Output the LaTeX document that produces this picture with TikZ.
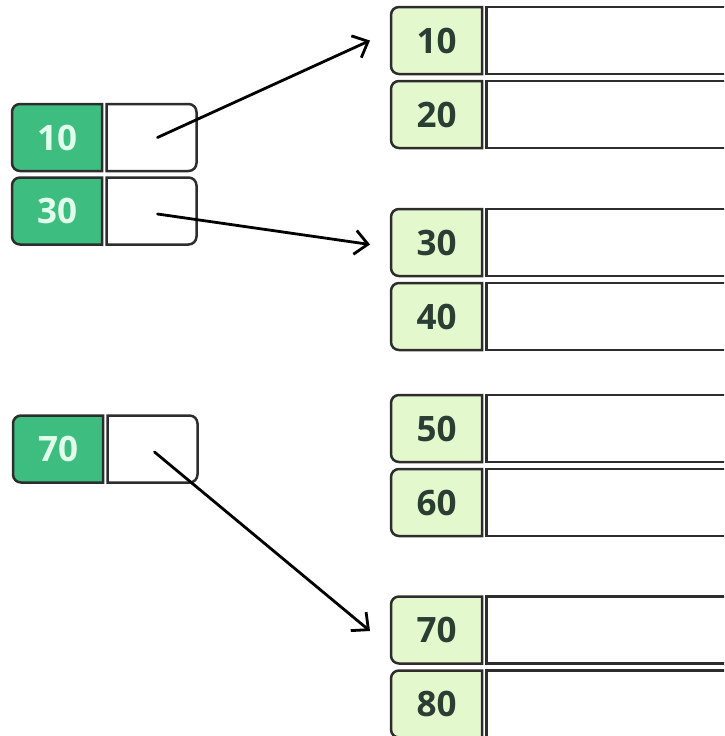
\documentclass[tikz,border=0pt]{standalone}
\usepackage{fontspec}
\setmainfont{Open Sans}
\usetikzlibrary{arrows.meta,backgrounds,positioning}
\definecolor{keygreen}{RGB}{61,190,128}
\definecolor{keylight}{RGB}{228,248,206}
\definecolor{keytext}{RGB}{43,62,52}
\definecolor{minttext}{RGB}{226,255,236}
\definecolor{edge}{RGB}{45,45,45}

\begin{document}
\begin{tikzpicture}[x=1pt,y=-1pt,
  cell/.style={minimum width=90pt,minimum height=67pt,inner sep=0pt,outer sep=0pt,
    font=\fontsize{35}{40}\selectfont\bfseries},
  leafkey/.style={cell,text=minttext},
  pagekey/.style={cell,minimum width=91pt,text=keytext},
  valcell/.style={cell,draw=edge,line width=2.5pt,fill=white,minimum width=270pt},
  celledge/.style={draw=edge,line width=2.5pt},
  ptrarrow/.style={line width=2.8pt,line cap=round,
    -{Straight Barb[length=13pt,width=24pt]}}]
\clip (0,0) rectangle (724,736);
% index entries
\node [leafkey] (l10) at (57,137.5) {10};
\node [leafkey] (l30) at (57,211) {30};
\node [leafkey] (l70) at (58,449) {70};
\foreach \n in {10,30,70}
  \node [cell, right=4.5pt of l\n] (p\n) {};
% pages
\foreach \k/\y in {10/40.5,20/114.5,30/242.5,40/316.5,50/428.5,60/502.5,70/630,80/704} {
  \node [pagekey] (r\k) at (436.5,\y) {\k};
  \node [valcell, right=4.5pt of r\k] (v\k) {};
}
\begin{scope}[on background layer]
\foreach \n in {l10,l30,l70}
  \draw [celledge, fill=keygreen] (\n.north east) [rounded corners=8pt]
  -- (\n.north west) -- (\n.south west) [sharp corners] -- (\n.south east) -- cycle;
\foreach \n in {10,20,30,40,50,60,70,80}
  \draw [celledge, fill=keylight] (r\n.north east) [rounded corners=8pt]
  -- (r\n.north west) -- (r\n.south west) [sharp corners] -- (r\n.south east) -- cycle;
\end{scope}
\foreach \n in {p10,p30,p70}
  \draw [celledge, fill=white] (\n.north west) [rounded corners=8pt]
  -- (\n.north east) -- (\n.south east) [sharp corners] -- (\n.south west) -- cycle;
% pointers
\draw [ptrarrow] ([xshift=6]p10.center) -- ([xshift=-21]r10.west);
\draw [ptrarrow] ([shift={(6,3)}]p30.center) -- ([shift={(-21,2)}]r30.west);
\draw [ptrarrow] ([shift={(2,3)}]p70.center) -- ([shift={(-21,1)}]r70.west);
\end{tikzpicture}
\end{document}
